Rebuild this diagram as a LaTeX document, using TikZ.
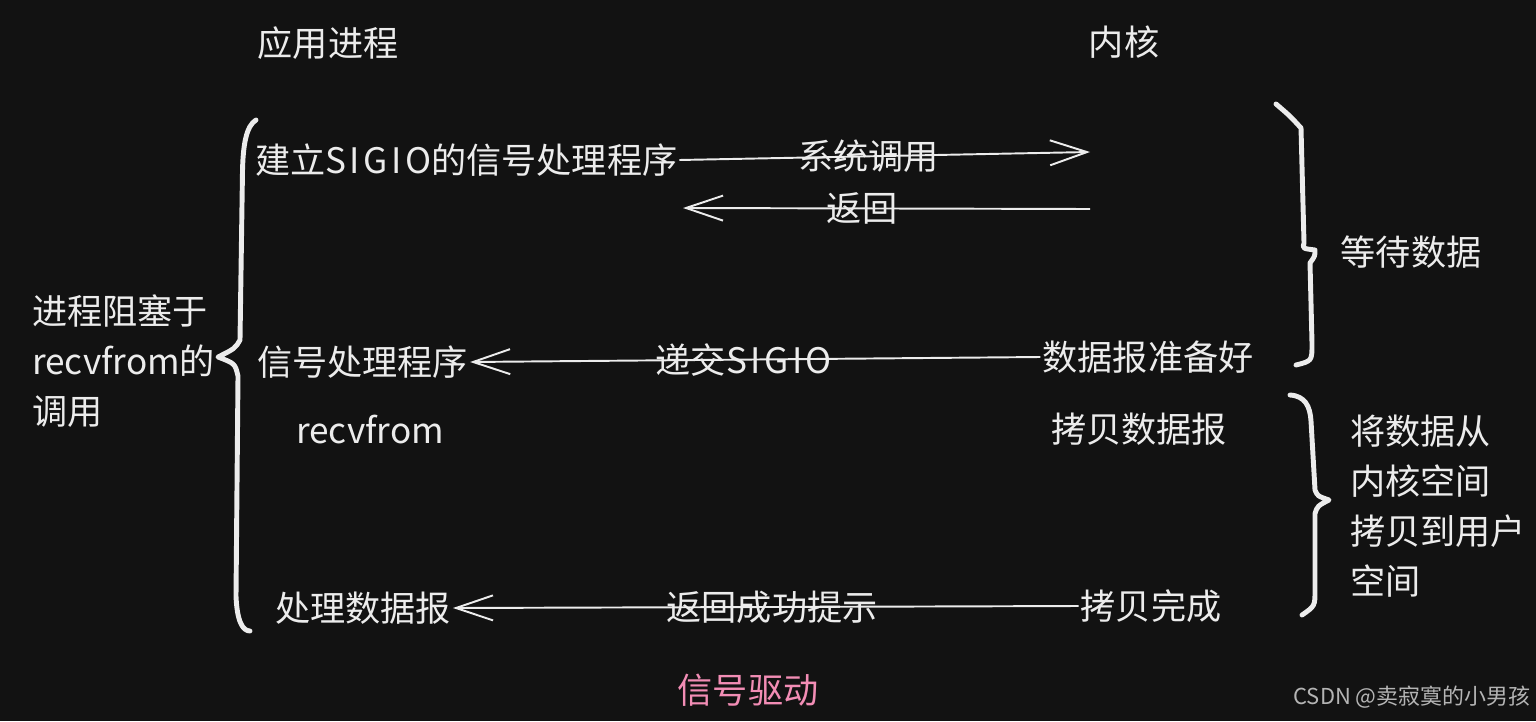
\documentclass[tikz,border=0pt]{standalone}
\usepackage{fontspec}
\setmainfont{Noto Sans CJK SC}
\newfontfamily\widelatin[LetterSpace=10]{Noto Sans CJK SC}
\usetikzlibrary{arrows.meta}
\definecolor{bgdark}{HTML}{121212}
\definecolor{inkwhite}{HTML}{ECECEC}
\definecolor{titlepink}{HTML}{F28DB5}
\definecolor{markgray}{HTML}{B4B4B4}

\begin{document}
\begin{tikzpicture}[
    txt/.style={text=inkwhite, inner sep=1pt, font=\fontsize{20}{28.5}\selectfont},
    lbl/.style={txt, inner sep=0pt},
    arr/.style={draw=inkwhite, line width=1.1pt,
      -{Straight Barb[length=0.74cm, width=0.5cm, line width=1.1pt]}},
    brace/.style={draw=inkwhite, line width=2.8pt, line cap=round, line join=round}
  ]
    \path[use as bounding box, fill=bgdark] (0,0) rectangle (30.72,14.42);

    % Column heads
    \node[txt] (app) at (6.56,13.56) {应用进程};
    \node[txt] (kern) at (22.48,13.58) {内核};

    % Left side
    \node[txt, anchor=west, align=left] (block) at (0.6,7.2)
        {进程阻塞于\\recvfrom的\\调用};
    \node[txt, anchor=west] (setup) at (5.06,11.22) {建立{\widelatin SIGIO}的信号处理程序};
    \node[txt, anchor=west] (handler) at (5.1,7.18) {信号处理程序};
    \node[txt] (recv) at (7.4,5.82) {recvfrom};
    \node[txt] (process) at (7.26,2.26) {处理数据报};

    % Right side
    \coordinate (callend) at (21.8,11.38);
    \coordinate (retstart) at (21.8,10.24);
    \coordinate (retend) at (13.66,10.26);
    \node[txt] (ready) at (22.96,7.28) {数据报准备好};
    \node[txt] (copy) at (22.78,5.84) {拷贝数据报};
    \node[txt] (done) at (23.02,2.3) {拷贝完成};

    % Arrows
    \draw[arr] (setup.east) -- node[lbl, pos=0.46] (call) {系统调用} (callend);
    \draw[arr] (retstart) -- node[lbl, pos=0.56] (ret) {返回} (retend);
    \draw[arr] (ready.west) -- node[lbl, pos=0.52] (deliver) {递交{\widelatin SIGIO}} (handler.east);
    \draw[arr] (done.west) -- node[lbl, pos=0.49] (okmsg) {返回成功提示} (process.east);

    % Braces
    \draw[brace] (5.12,12.02) .. controls (4.92,11.9) and (4.86,11.5) .. (4.85,11.0)
        -- (4.8,7.62) .. controls (4.7,7.45) .. (4.36,7.28)
        .. controls (4.7,7.15) .. (4.76,6.9)
        -- (4.72,2.5) .. controls (4.74,2.0) and (4.85,1.8) .. (5.0,1.8);
    \draw[brace] (25.52,12.34) .. controls (25.8,12.1) .. (26.02,11.86)
        -- (26.08,9.56) .. controls (26.05,9.45) .. (26.3,9.42)
        .. controls (26.3,9.3) .. (26.2,9.16)
        -- (26.24,7.55) .. controls (26.24,7.2) .. (25.92,7.12);
    \draw[brace] (25.8,6.52) .. controls (26.1,6.5) and (26.2,6.3) .. (26.22,6.0)
        -- (26.3,4.62) .. controls (26.35,4.5) .. (26.58,4.42)
        .. controls (26.35,4.3) .. (26.3,4.15)
        -- (26.3,2.62) .. controls (26.3,2.3) .. (26.04,2.12);

    % Brace labels
    \node[txt] (wait) at (28.22,9.38) {等待数据};
    \node[txt, anchor=west, align=left] (copyall) at (26.96,4.3)
        {将数据从\\内核空间\\拷贝到用户\\空间};

    % Title and mark
    \node[txt, text=titlepink] (title) at (14.96,0.62) {信号驱动};
    \node[text=markgray, inner sep=0pt, font=\fontsize{12.5}{15}\selectfont] (mark)
        at (28.24,0.48) {CSDN @卖寂寞的小男孩};
  \end{tikzpicture}
\end{document}
